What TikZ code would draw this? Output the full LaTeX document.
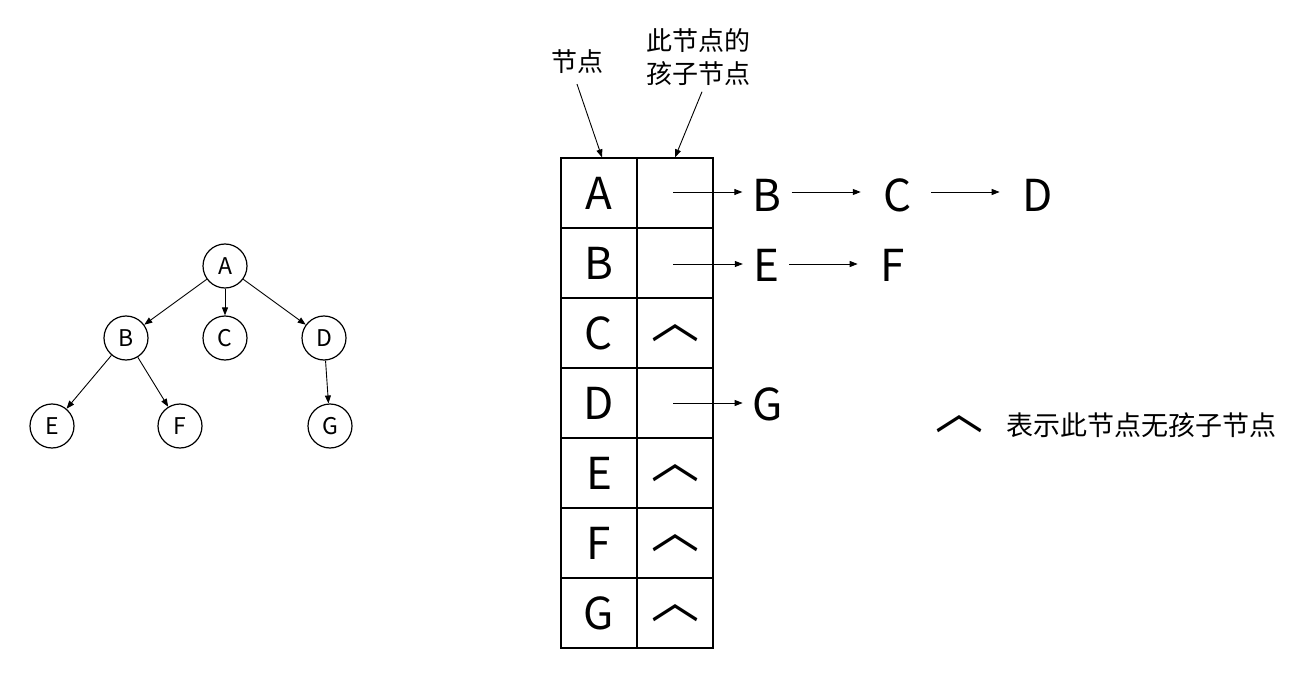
\documentclass[tikz,border=0pt]{standalone}
\usepackage{fontspec}
\setmainfont{Noto Sans CJK SC}
\usetikzlibrary{arrows.meta}
\begin{document}
\begin{tikzpicture}[x=1pt,y=-1pt,
  tnode/.style={circle,draw,line width=1.2pt,minimum size=44pt,inner sep=0pt,font=\fontsize{23}{23}\selectfont},
  arr/.style={-{Triangle[length=8pt,width=6pt]},line width=0.9pt},
  cell/.style={draw,line width=1.2pt,minimum width=76pt,minimum height=70pt,inner sep=0pt,font=\fontsize{44}{44}\selectfont},
  big/.style={font=\fontsize{44}{44}\selectfont,inner ysep=0pt,inner xsep=10pt},
  caret/.style={font=\fontsize{48}{48}\selectfont,inner sep=0pt},
  lab/.style={font=\fontsize{26}{33}\selectfont,align=center,inner sep=0pt},
  gap/.style={shorten >=13pt}
]
\useasboundingbox (0,0) rectangle (1311,676);
% tree
\node[tnode] (A) at (225,266) {A};
\node[tnode] (B) at (126,338) {B};
\node[tnode] (C) at (225,338) {C};
\node[tnode] (D) at (324,338) {D};
\node[tnode] (E) at (52,426) {E};
\node[tnode] (F) at (180,426) {F};
\node[tnode] (G) at (330,426) {G};
\foreach \a/\b in {A/B,A/C,A/D,B/E,B/F,D/G} \draw[arr] (\a) -- (\b);
% table
\foreach \n/\y in {A/193,B/263,C/333,D/403,E/473,F/543,G/613}{
  \node[cell] (c\n) at (599,\y) {\n};
  \node[cell] (p\n) at (675,\y) {};
}
\foreach \n in {C,E,F,G} \node[caret] (k\n) at (p\n) {︿};
% labels
\node[lab] (l1) at (577,62) {节点};
\node[lab] (l2) at (698,57) {此节点的\\孩子节点};
\draw[arr] ([yshift=-10pt]l1.south) -- ([xshift=3pt]cA.north);
\draw[arr] ([xshift=4pt,yshift=-6pt]l2.south) -- (pA.north);
% chains
\coordinate (sA) at (673,192);
\coordinate (sB) at (673,264);
\coordinate (sD) at (673,403);
\node[big] (bB) at (767,195) {B};
\node[big] (bC) at (898,195) {C};
\node[big] (bD) at (1038,195) {D};
\node[big] (bE) at (766,265) {E};
\node[big] (bF) at (893,265) {F};
\node[big] (bG) at (768,404) {G};
\draw[arr] (sA) -- (sA -| bB.west);
\draw[arr,gap] (bB.east |- sA) -- (sA -| bC.west);
\draw[arr,gap,shorten <=9pt] (bC.east |- sA) -- (sA -| bD.west);
\draw[arr] (sB) -- (sB -| bE.west);
\draw[arr,gap] (bE.east |- sB) -- (sB -| bF.west);
\draw[arr] (sD) -- (sD -| bG.west);
% legend
\node[caret] (kL) at (959,424) {︿};
\node[font=\fontsize{27}{27}\selectfont,inner sep=0pt] (legend) at (1141,425) {表示此节点无孩子节点};
\end{tikzpicture}
\end{document}
